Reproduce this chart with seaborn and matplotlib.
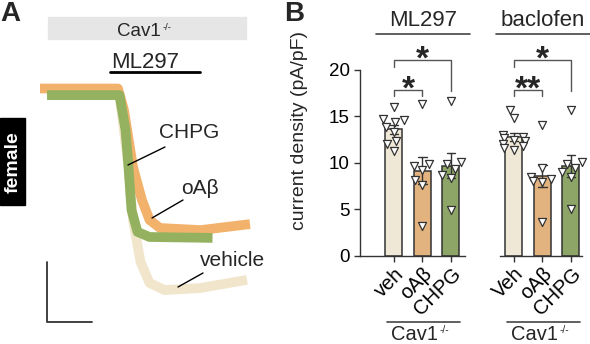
import matplotlib
matplotlib.use("Agg")
import matplotlib.pyplot as plt
from matplotlib.lines import Line2D
from matplotlib.patches import Rectangle
import seaborn as sns
import pandas as pd
import numpy as np

sns.set_style("ticks")
plt.rcParams['font.family'] = ['Liberation Sans', 'DejaVu Sans']

# ---- panel A traces (time in s, current in pA)
veh_t = [4.7, 53, 59, 62, 67, 73, 83, 107, 138]
veh_i = [-17, -17, -257, -433, -573, -643, -667, -660, -633]
oab_t = [0, 52, 56, 62, 68, 73, 80, 107, 140]
oab_i = [5, 5, -67, -257, -367, -433, -460, -467, -447]
chpg_t = [4.7, 53, 57, 59, 61, 65, 73, 115]
chpg_i = [-17, -17, -133, -257, -400, -473, -490, -493]
scale_t = [4.7, 34.7]      # 30 s
scale_i = [-573, -773]     # 200 pA

# ---- panel B current density (pA/pF)
groups = ["veh", "oAβ", "CHPG"]
ml297_veh = [16.0, 14.7, 14.6, 14.4, 13.9, 13.3, 12.3, 12.0, 11.3]
ml297_oab = [16.3, 9.9, 9.7, 9.2, 8.2, 7.6, 3.2]
ml297_chpg = [16.7, 10.1, 9.9, 9.3, 8.7, 8.4, 4.9]
bac_veh = [15.7, 14.8, 13.0, 12.8, 12.7, 12.5, 12.3, 12.0, 11.8, 11.6, 11.4]
bac_oab = [14.1, 9.4, 8.5, 8.3, 8.1, 7.9, 3.7]
bac_chpg = [15.7, 10.1, 9.9, 9.4, 9.0, 8.5, 5.0]

c_veh, c_oab, c_chpg = "#F4EAD2", "#F2B46E", "#8FAF5C"
pal = {"veh": c_veh, "oAβ": c_oab, "CHPG": c_chpg}
edge = "#333333"

W, H = 590, 344
fig = plt.figure(figsize=(W / 100, H / 100), dpi=100)


def px(x, y):
    return (x / W, 1 - y / H)


def fline(x0, y0, x1, y1, lw=1.0, color="black"):
    a, b = px(x0, y0)
    c, d = px(x1, y1)
    fig.add_artist(Line2D([a, c], [b, d], lw=lw, color=color, transform=fig.transFigure))


def cav1(x, y, size):
    # "Cav1" with a small -/- superscript; x is the left edge, y the baseline
    t = fig.text(*px(x, y), "Cav1", fontsize=size, ha="left", va="baseline")
    plt.annotate("-/-", xy=(1.0, 1.0), xycoords=t, xytext=(1, 0),
                 textcoords="offset points", fontsize=size * 0.5,
                 ha="left", va="top", annotation_clip=False)


# ================= panel A =================
ax_a = fig.add_axes([0, 0, 290 / W, 1])
ax_a.set_xlim(-40 / 1.5, 250 / 1.5)
ax_a.set_ylim((90 - 344) / 0.3, 90 / 0.3)
ax_a.axis("off")
ax_a.plot(veh_t, veh_i, color="#F1E6CC", lw=7, solid_joinstyle="round", solid_capstyle="butt")
ax_a.plot(oab_t, oab_i, color="#F2B26C", lw=7, solid_joinstyle="round", solid_capstyle="butt")
ax_a.plot(chpg_t, chpg_i, color="#93B15F", lw=7, solid_joinstyle="round", solid_capstyle="butt")
ax_a.plot([scale_t[0], scale_t[0], scale_t[1]], [scale_i[0], scale_i[1], scale_i[1]],
          color="#333333", lw=1.3)

fig.text(*px(10, 14), "A", fontsize=20, fontweight="bold", ha="center", va="center")
fig.add_artist(Rectangle(px(48, 39), 198 / W, 22 / H, color="#E6E6E6",
                         transform=fig.transFigure, zorder=0))
cav1(117, 35.5, 13.5)
fig.text(*px(145, 62), "ML297", fontsize=16, ha="center", va="center")
fline(110, 72, 200, 72, lw=2)

fig.add_artist(Rectangle(px(0, 205), 25 / W, 87 / H, color="black",
                         transform=fig.transFigure))
fig.text(*px(13, 162), "female", fontsize=14, fontweight="bold", color="white",
         rotation=90, ha="center", va="center")

fig.text(*px(189, 133), "CHPG", fontsize=15, ha="center", va="center")
fline(165, 147, 128, 165)
fig.text(*px(200, 188), "oAβ", fontsize=15, ha="center", va="center")
fline(183, 200, 152, 218)
fig.text(*px(232, 260), "vehicle", fontsize=15, ha="center", va="center")
fline(203, 273, 178, 287)

# ================= panel B =================
fig.text(*px(294, 14), "B", fontsize=20, fontweight="bold", ha="center", va="center")

sets = [
    ("ML297", ["veh", "oAβ", "CHPG"], [ml297_veh, ml297_oab, ml297_chpg], 360, "*", "*"),
    ("baclofen", ["Veh", "oAβ", "CHPG"], [bac_veh, bac_oab, bac_chpg], 480, "**", "*"),
]

for k, (title, labels, vals, left, s1, s2) in enumerate(sets):
    df = pd.DataFrame({
        "group": np.repeat(groups, [len(v) for v in vals]),
        "value": np.concatenate(vals),
    })
    ax = fig.add_axes([left / W, (H - 256) / H, 110 / W, 216 / H])
    sns.barplot(data=df, x="group", y="value", hue="group", palette=pal, order=groups,
                width=0.6, errorbar="se", capsize=0.3, edgecolor=edge, linewidth=1.1,
                err_kws={"linewidth": 1, "color": edge}, legend=False, ax=ax)
    sns.swarmplot(data=df, x="group", y="value", order=groups, marker="v", size=5.8,
                  color="white", edgecolor=edge, linewidth=0.9, ax=ax)
    ax.set_xlim(-1.19, 2.67)
    ax.set_ylim(0, 23.2)
    ax.set_xlabel("")
    ax.set_ylabel("")
    ax.spines["top"].set_visible(False)
    ax.spines["right"].set_visible(False)
    ax.set_xticks(range(3))
    ax.set_xticklabels(labels, rotation=45, ha="right", rotation_mode="anchor", fontsize=14.5)
    ax.tick_params(axis="x", length=4, width=1, pad=2, colors=edge, labelcolor="black")
    if k == 0:
        ax.spines["bottom"].set_bounds(-1.19, 2.5)
        ax.spines["left"].set_bounds(0, 20)
        ax.set_yticks([0, 5, 10, 15, 20])
        ax.tick_params(axis="y", length=4, width=1, labelsize=13.5, colors=edge, labelcolor="black")
        ax.set_ylabel("current density (pA/pF)", fontsize=14)
        ax.yaxis.set_label_coords(-0.47, 0.58)
    else:
        ax.spines["left"].set_visible(False)
        ax.spines["bottom"].set_bounds(-0.5, 2.4)
        ax.set_yticks([])
    for sp in ax.spines.values():
        sp.set_color(edge)
        sp.set_linewidth(1)
    ax.patch.set_alpha(0)

    # significance brackets
    ax.plot([0, 0, 1, 1], [17.2, 17.8, 17.8, 17.2], color="#555555", lw=1)
    ax.text(0.5, 17.8, s1, fontsize=24, fontweight="bold", ha="center", va="center")
    ax.plot([0, 0, 2, 2], [20.3, 21.0, 21.0, 17.7], color="#555555", lw=1, clip_on=False)
    ax.text(1.0, 21.0, s2, fontsize=24, fontweight="bold", ha="center", va="center")

    # titles and genotype labels
    tl = 376 if k == 0 else 496
    fig.text(*px(tl + 47, 21), title, fontsize=16, ha="center", va="center")
    fline(tl, 34, tl + 94, 34, lw=1.2, color="#444444")
    bl = 387 if k == 0 else 507
    fline(bl, 322, bl + 73, 322, lw=1.2, color="#444444")
    cav1(bl + 4, 340, 14.5)

fig.savefig("out.png", dpi=100)
